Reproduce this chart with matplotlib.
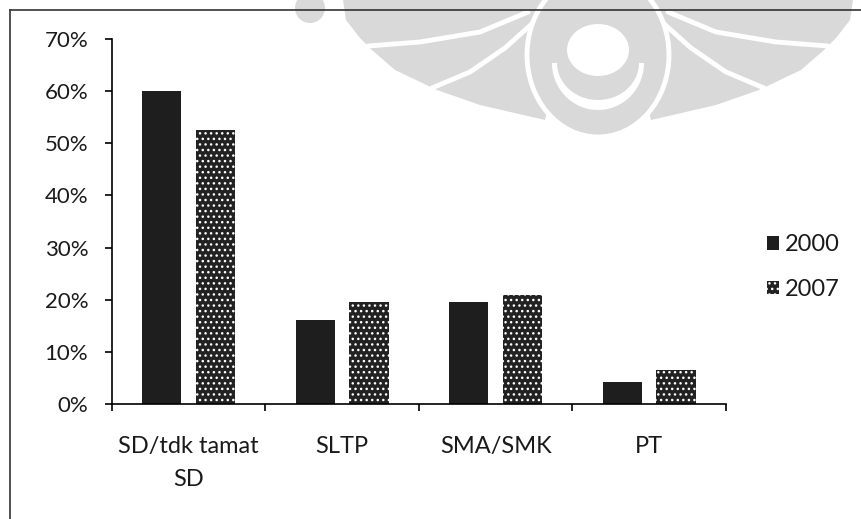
import matplotlib
matplotlib.use("Agg")
import matplotlib.pyplot as plt
import numpy as np
from matplotlib.patches import Patch, Polygon, Ellipse

categories = ["SD/tdk tamat\nSD", "SLTP", "SMA/SMK", "PT"]
years = ["2000", "2007"]
vals_2000 = [60.0, 16.2, 19.6, 4.2]
vals_2007 = [52.6, 19.5, 21.0, 6.5]

plt.rcParams['font.family'] = ['Lato', 'DejaVu Sans']

W, H = 861, 519
fig = plt.figure(figsize=(W / 100, H / 100), dpi=100)
ax = fig.add_axes([0.130, 0.2216, 0.713, 0.703])
ax.patch.set_alpha(0)


def px(pts):
    # pixel coords (y down) -> figure fraction
    return [(x / W, 1 - y / H) for x, y in pts]


# faint watermark logo behind the chart (scan artefact)
grey = '#d9d9d9'
cx = 598


def mirror(pts):
    return [(2 * cx - x, y) for x, y in pts]


side = [(343, 0), (346, 20), (360, 38), (372, 50), (395, 70), (437, 90),
        (480, 105), (545, 120), (560, 60), (548, 0)]
gap1 = [(368, 46), (420, 42), (480, 32), (528, 12)]
gap2 = [(432, 88), (470, 72), (505, 48), (534, 22)]
for pts in (side, mirror(side)):
    fig.add_artist(Polygon(px(pts), closed=True, facecolor=grey,
                           edgecolor='none', transform=fig.transFigure, zorder=-2))
for pts in (gap1, gap2, mirror(gap1), mirror(gap2)):
    xy = px(pts)
    fig.add_artist(plt.Line2D([p[0] for p in xy], [p[1] for p in xy],
                              color='white', lw=3.5, solid_capstyle='round',
                              transform=fig.transFigure, zorder=-1.5))
fig.add_artist(Ellipse((310 / W, 1 - 8 / H), 30 / W, 30 / H, facecolor=grey,
                       edgecolor='none', transform=fig.transFigure, zorder=-2))
fig.add_artist(Ellipse((cx / W, 1 - 55 / H), 142 / W, 164 / H, facecolor=grey,
                       edgecolor='white', lw=3.5, transform=fig.transFigure,
                       zorder=-1))
fig.add_artist(Ellipse((cx / W, 1 - 50 / H), 62 / W, 52 / H, facecolor='white',
                       edgecolor='none', transform=fig.transFigure, zorder=-0.9))
t = np.linspace(0, np.pi, 40)
outer = [(cx - 46 * np.cos(a), 63 + 47 * np.sin(a)) for a in t]
inner = [(cx + 41 * np.cos(a), 63 + 37 * np.sin(a)) for a in t]
fig.add_artist(Polygon(px(outer + inner), closed=True, facecolor='white',
                       edgecolor='none', transform=fig.transFigure, zorder=-0.9))

x = np.arange(len(categories))
w = 0.255
ax.bar(x - 0.175, vals_2000, w, color='#1e1e1e', linewidth=0)
ax.bar(x + 0.175, vals_2007, w, color='#222222', edgecolor='white',
       hatch='...', linewidth=0)

tc = '#1a1a1a'
ax.set_xlim(-0.5, 3.5)
ax.set_ylim(0, 70)
ax.set_yticks(range(0, 71, 10))
ax.set_yticklabels([f"{v}%" for v in range(0, 71, 10)], fontsize=16, color=tc)

# category labels between boundary ticks, like excel
ax.set_xticks(np.arange(-0.5, 4.0, 1.0))
ax.set_xticklabels([])
ax.set_xticks(x, minor=True)
ax.set_xticklabels(categories, minor=True, fontsize=17, color=tc,
                   linespacing=1.7)
ax.tick_params(axis='x', which='minor', length=0, pad=23)
ax.tick_params(axis='x', which='major', length=5, width=1.2, direction='out')
ax.tick_params(axis='y', length=5, width=1.2, direction='out', pad=12)

for s in ['top', 'right']:
    ax.spines[s].set_visible(False)
ax.spines['left'].set_linewidth(1.2)
ax.spines['bottom'].set_linewidth(1.2)

handles = [Patch(facecolor='#1e1e1e', linewidth=0),
           Patch(facecolor='#222222', edgecolor='white', hatch='...', linewidth=0)]
fig.legend(handles, years, loc='center left', bbox_to_anchor=(0.866, 0.485),
           frameon=False, fontsize=17, handlelength=0.5, handleheight=0.5,
           handletextpad=0.25, labelspacing=1.0, labelcolor=tc)

# scanned page frame (left and top edges)
fig.add_artist(plt.Line2D([0.012, 0.012], [0.0, 0.98], color='#333333', lw=1.2))
fig.add_artist(plt.Line2D([0.012, 1.0], [0.98, 0.98], color='#333333', lw=1.2))

fig.savefig("out.png", dpi=100, facecolor='white')
